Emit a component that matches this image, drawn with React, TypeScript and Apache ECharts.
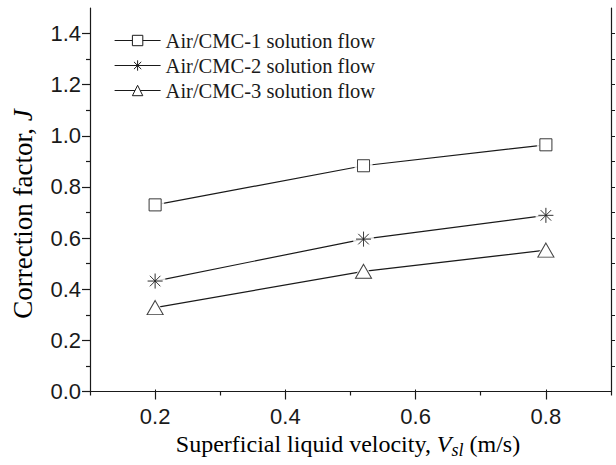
import React, { useEffect, useRef } from "react";
import * as echarts from "echarts";

const seriesNames = ["Air/CMC-1 solution flow", "Air/CMC-2 solution flow", "Air/CMC-3 solution flow"];
const velocity = [0.2, 0.52, 0.8];
const cmc1 = [0.73, 0.883, 0.965];
const cmc2 = [0.432, 0.596, 0.689];
const cmc3 = [0.328, 0.47, 0.553];
const xMajorTicks = [0.2, 0.4, 0.6, 0.8];
const xMinorTicks = [0.1, 0.3, 0.5, 0.7, 0.9];
const yMajorTicks = [0, 0.2, 0.4, 0.6, 0.8, 1.0, 1.2, 1.4];
const yMinorTicks = [0.1, 0.3, 0.5, 0.7, 0.9, 1.1, 1.3];
const yAllTicks = [0.1, 0.2, 0.3, 0.4, 0.5, 0.6, 0.7, 0.8, 0.9, 1.0, 1.1, 1.2, 1.3, 1.4];

const INK = "#1a1a1a";
const SERIF = "'Liberation Serif', 'DejaVu Serif', serif";
const SANS = "'Liberation Sans', Arial, sans-serif";
const STAR = "path://M10,0L10,20M0,10L20,10M3,3L17,17M3,17L17,3";

export default function App() {
  const ref = useRef<HTMLDivElement>(null);
  useEffect(() => {
    if (!ref.current) return;
    const chart = echarts.init(ref.current, undefined, { renderer: "svg" });
    const values = [cmc1, cmc2, cmc3];
    const symbols = ["rect", STAR, "triangle"];
    const sizes: any[] = [12, 15, [16, 14]];
    const gapSymbols = ["rect", "circle", "triangle"];
    const gapSizes: any[] = [18, 21, [23, 20]];
    const series: any[] = [];
    values.forEach((vals, i) => {
      const data = velocity.map((x, k) => [x, vals[k]]);
      series.push({
        type: "line",
        name: seriesNames[i],
        data,
        symbol: symbols[i],
        symbolSize: sizes[i],
        showAllSymbol: true,
        lineStyle: { color: INK, width: 1.2 },
        itemStyle: { color: "#fff", borderColor: INK, borderWidth: 1 },
        z: 2,
        silent: true,
      });
      series.push({
        type: "scatter",
        data,
        symbol: gapSymbols[i],
        symbolSize: gapSizes[i],
        itemStyle: { color: "#fff", borderWidth: 0 },
        z: 3,
        silent: true,
      });
      series.push({
        type: "scatter",
        data,
        symbol: symbols[i],
        symbolSize: sizes[i],
        itemStyle: { color: "#fff", borderColor: INK, borderWidth: 1 },
        z: 4,
        silent: true,
      });
    });

    const hidden = { show: false };
    chart.setOption({
      animation: false,
      backgroundColor: "#fff",
      grid: { left: 90, right: 5, top: 8, bottom: 73.5, containLabel: false },
      legend: {
        data: seriesNames,
        orient: "vertical",
        left: 114,
        top: 30,
        padding: 0,
        itemWidth: 46,
        itemHeight: 13,
        itemGap: 4,
        selectedMode: false,
        itemStyle: { borderWidth: 1, borderColor: INK, color: "#fff" },
        lineStyle: { width: 1.2, color: INK },
        textStyle: { fontFamily: SERIF, fontSize: 20.5, lineHeight: 21, color: INK },
      },
      xAxis: [
        {
          type: "value", position: "bottom", min: 0.1, max: 0.9,
          axisLine: { show: true, lineStyle: { color: INK, width: 1.2 } },
          axisTick: { show: true, inside: false, length: 8, customValues: xMajorTicks, lineStyle: { color: INK, width: 1.2 } },
          axisLabel: { show: true, customValues: xMajorTicks, margin: 14, fontFamily: SANS, fontSize: 22, color: INK, formatter: (v: number) => v.toFixed(1) },
          splitLine: hidden,
        },
        {
          type: "value", position: "bottom", min: 0.1, max: 0.9,
          axisLine: hidden,
          axisTick: { show: true, length: 4, customValues: xMinorTicks, lineStyle: { color: INK, width: 1.2 } },
          axisLabel: hidden, splitLine: hidden,
        },
        {
          type: "value", position: "top", min: 0.1, max: 0.9,
          axisLine: { show: true, lineStyle: { color: INK, width: 1.2 } },
          axisTick: { show: true, length: 2, customValues: xMajorTicks, lineStyle: { color: INK, width: 1 } },
          axisLabel: hidden, splitLine: hidden,
        },
      ],
      yAxis: [
        {
          type: "value", position: "left", min: 0, max: 1.5,
          axisLine: { show: true, lineStyle: { color: INK, width: 1.2 } },
          axisTick: { show: true, length: 8, customValues: yMajorTicks, lineStyle: { color: INK, width: 1.2 } },
          axisLabel: { show: true, customValues: yMajorTicks, margin: 9, fontFamily: SANS, fontSize: 22, color: INK, formatter: (v: number) => v.toFixed(1) },
          splitLine: hidden,
        },
        {
          type: "value", position: "left", min: 0, max: 1.5,
          axisLine: hidden,
          axisTick: { show: true, length: 4, customValues: yMinorTicks, lineStyle: { color: INK, width: 1.2 } },
          axisLabel: hidden, splitLine: hidden,
        },
        {
          type: "value", position: "right", min: 0, max: 1.5,
          axisLine: { show: true, lineStyle: { color: INK, width: 1.2 } },
          axisTick: { show: true, length: 4, customValues: yAllTicks, lineStyle: { color: INK, width: 1 } },
          axisLabel: hidden, splitLine: hidden,
        },
      ],
      graphic: [
        {
          type: "text", x: 348, y: 444, silent: true,
          style: {
            text: "{a|Superficial liquid velocity, }{i|V}{s|sl}{a| (m/s)}",
            align: "center", verticalAlign: "middle",
            rich: {
              a: { fontFamily: SERIF, fontSize: 24, lineHeight: 30, color: INK, verticalAlign: "middle" },
              i: { fontFamily: SERIF, fontSize: 24, fontStyle: "italic", lineHeight: 30, color: INK, verticalAlign: "middle" },
              s: { fontFamily: SERIF, fontSize: 18, fontStyle: "italic", lineHeight: 17, color: INK, verticalAlign: "bottom" },
            },
          },
        },
        {
          type: "text", x: 23, y: 214, rotation: Math.PI / 2, silent: true,
          style: {
            text: "{a|Correction factor, }{i|J}",
            align: "center", verticalAlign: "middle",
            rich: {
              a: { fontFamily: SERIF, fontSize: 27, color: INK },
              i: { fontFamily: SERIF, fontSize: 27, fontStyle: "italic", color: INK },
            },
          },
        },
      ],
      series,
    });
    return () => chart.dispose();
  }, []);
  return <div ref={ref} style={{ width: 616, height: 465, position: "absolute", left: 0, top: 0 }} />;
}
